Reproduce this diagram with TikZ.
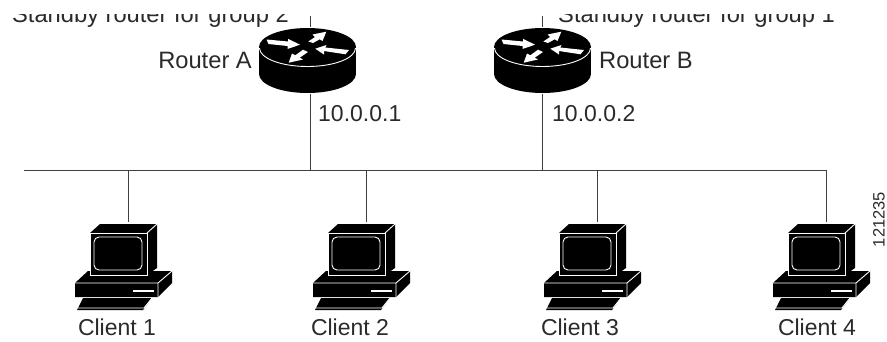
\documentclass[tikz,border=0pt]{standalone}
\usepackage{fontspec}
\setmainfont{Liberation Sans}
\definecolor{ink}{HTML}{2A2A2A}
\definecolor{wire}{HTML}{404040}
\tikzset{
  x=1pt,y=-1pt,
  wirel/.style={draw=wire,line width=0.9pt},
  edgew/.style={draw=white,line width=0.9pt},
  lbl/.style={inner sep=0pt,text=ink,font=\fontsize{23}{23}\selectfont},
  lblw/.style={inner sep=0pt,text=ink,font=\fontsize{23.7}{23.7}\selectfont},
  tiny/.style={inner sep=0pt,text=ink,font=\fontsize{16.5}{16.5}\selectfont},
  anchorpt/.style={inner sep=0pt,minimum size=0pt},
  pics/routerpic/.style={code={
    \fill[black] (-48.5,0) rectangle (48.5,27);
    \fill[black] (48.5,27) arc[start angle=0,end angle=-180,x radius=48.5pt,y radius=19pt] -- cycle;
    \fill[black] (0,0) ellipse[x radius=48.5pt,y radius=19pt];
    \draw[edgew] (-48,1) arc[start angle=180,end angle=360,x radius=48pt,y radius=18.5pt];
    \fill[white] (-41,-7.5) -- (-19.5,-5.5) -- (-19.5,-8.2) -- (-7.5,-2.3) -- (-20,2) -- (-20,-1) -- (-39,-3) -- cycle;
    \fill[white] (18.8,-15.3) -- (5,-12.5) -- (7.5,-10) -- (0.8,-5.5) -- (5.5,-4) -- (12.2,-7.7) -- (15,-6) -- cycle;
    \fill[white] (-18.8,15.7) -- (-4.5,12.5) -- (-7.8,10.7) -- (0.5,5) -- (-4.5,2.7) -- (-12.2,8.3) -- (-15.5,6.5) -- cycle;
    \fill[white] (7.8,1.7) -- (19,-2) -- (17.8,0.5) -- (41.5,3) -- (38,7.3) -- (16.5,4) -- (16.5,7.5) -- cycle;
  }},
  pics/pcpic/.style={code={
    % base
    \fill[black] (-53,61) -- (-40,49) -- (44,49) -- (44,61) -- (30,75) -- (-53,75) -- cycle;
    \draw[edgew] (-53,61) -- (30,61) -- (44,49) (30,61) -- (30,75);
    \draw[white,line width=1.3pt] (5,69) -- (26,69);
    % monitor
    \fill[black] (-38,11) -- (-28,2) -- (29,2) -- (29,46) -- (19,53) -- (-38,53) -- cycle;
    \draw[edgew] (19,11) -- (29,2);
    \draw[edgew] (-38,11) rectangle (19,53);
    \draw[edgew,rounded corners=5pt] (-34,15) rectangle (14,48);
    % keyboard
    \fill[black] (-45,76) -- (24,76) -- (15,88) -- (-51,88) -- cycle;
    \draw[edgew] (-50,86) -- (16,86) -- (24,76);
  }}
}
\begin{document}
\begin{tikzpicture}
\useasboundingbox (0,0) rectangle (887,341);
\fill[white] (0,0) rectangle (887,341);
% bus
\coordinate (busl) at (24,170);
\coordinate (busr) at (826,170);
\coordinate (tapA) at (310,170);
\coordinate (tapB) at (542,170);
\coordinate (tap1) at (128,170);
\coordinate (tap2) at (366,170);
\coordinate (tap3) at (597,170);
\coordinate (topA) at (310,16);
\coordinate (topB) at (542,16);
\node[anchorpt] (ra) at (310,94) {};
\node[anchorpt] (rb) at (542,94) {};
\node[anchorpt] (raT) at (310,27) {};
\node[anchorpt] (rbT) at (542,27) {};
\node[anchorpt] (c1) at (128,222) {};
\node[anchorpt] (c2) at (366,222) {};
\node[anchorpt] (c3) at (597,222) {};
\node[anchorpt] (c4) at (826,222) {};
\draw[wirel] (busl) -- (busr) -- (c4);
\draw[wirel] (tap1) -- (c1);
\draw[wirel] (tap2) -- (c2);
\draw[wirel] (tap3) -- (c3);
\draw[wirel] (ra) -- (tapA);
\draw[wirel] (rb) -- (tapB);
\draw[wirel] (topA) -- (raT);
\draw[wirel] (topB) -- (rbT);
% routers
\pic at (307.5,47) {routerpic};
\pic at (542.5,47) {routerpic};
% clients
\pic at (128,222) {pcpic};
\pic at (366,222) {pcpic};
\pic at (597,222) {pcpic};
\pic at (826,222) {pcpic};
% clipped labels
\begin{scope}
\clip (0,14) rectangle (887,341);
\node[lblw,anchor=base east] (sa) at (289,22.5) {Standby router for group 2};
\node[lblw,anchor=base west] (sb) at (558,22.5) {Standby router for group 1};
\end{scope}
\node[lblw,anchor=base east] (la) at (252,68) {Router A};
\node[lblw,anchor=base west] (lb) at (599,68) {Router B};
\node[lbl,anchor=base west] (ia) at (318,121.7) {10.0.0.1};
\node[lbl,anchor=base west] (ib) at (552,121.7) {10.0.0.2};
\node[lbl,anchor=base] (t1) at (117,335) {Client 1};
\node[lbl,anchor=base] (t2) at (350,335) {Client 2};
\node[lbl,anchor=base] (t3) at (580,335) {Client 3};
\node[lbl,anchor=base] (t4) at (817,335) {Client 4};
\node[tiny,rotate=90,anchor=center] (id) at (879,219.5) {121235};
\end{tikzpicture}
\end{document}
